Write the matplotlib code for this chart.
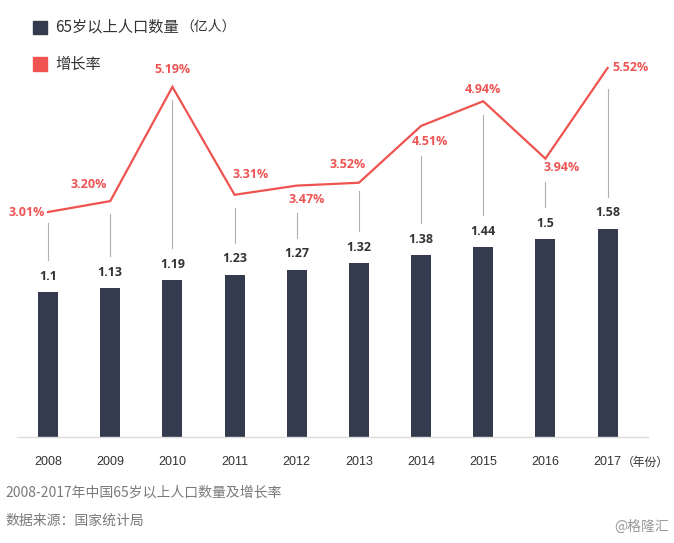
import matplotlib
matplotlib.use("Agg")
import matplotlib.pyplot as plt
from matplotlib.patches import Rectangle

plt.rcParams['font.family'] = ['Open Sans', 'Noto Sans CJK SC', 'DejaVu Sans']

years = ['2008', '2009', '2010', '2011', '2012', '2013', '2014', '2015', '2016', '2017']
population = [1.10, 1.13, 1.19, 1.23, 1.27, 1.32, 1.38, 1.44, 1.50, 1.58]
pop_labels = ['1.1', '1.13', '1.19', '1.23', '1.27', '1.32', '1.38', '1.44', '1.5', '1.58']
growth = [3.01, 3.20, 5.19, 3.31, 3.47, 3.52, 4.51, 4.94, 3.94, 5.52]

# label placement (pixel offsets from the point) and connector gaps — style only
pct_offsets = [(-3, 0, 'right'), (-3, 17, 'right'), (0, 17, 'center'), (-2, 20, 'left'),
               (10, -14, 'center'), (-11, 18, 'center'), (9, -16, 'center'),
               (0, 12, 'center'), (16, -9, 'center'), (5, 0, 'left')]
conn_top_gap = [11, 13, 13, 13, 27, 8, 30, 14, 23, 21]
conn_bottom_gap = 32

W, H = 674, 543
fig = plt.figure(figsize=(W / 100, H / 100), dpi=100)
left_px, right_px, top_px, base_px = 17, 648, 40, 437
ax = fig.add_axes([left_px / W, (H - base_px) / H, (right_px - left_px) / W, (base_px - top_px) / H])
ax2 = ax.twinx()

bar_color = '#343b4f'
line_color = '#ef5350'
pct_color = '#ee5454'

x = list(range(len(years)))
ax.bar(x, population, width=0.32, color=bar_color, zorder=2)
ax.set_xlim(-0.5, 9.65)
ax.set_ylim(0, 3.012)
ax2.set_ylim(-0.91, 6.007)
ax2.plot(x, growth, color=line_color, lw=1.6, zorder=3, solid_joinstyle='miter')

for a in (ax, ax2):
    for s in a.spines.values():
        s.set_visible(False)
    a.set_yticks([])
ax.spines['bottom'].set_visible(True)
ax.spines['bottom'].set_color('#dddddd')
ax.spines['bottom'].set_linewidth(1.0)
ax.set_xticks(x)
ax.set_xticklabels(years, fontsize=9, color='#333333', family=['Liberation Sans', 'DejaVu Sans'])
ax.tick_params(axis='x', length=0, pad=14)

# bar value labels
for xi, v, lab in zip(x, population, pop_labels):
    ax.annotate(lab, (xi, v), xytext=(0, 11.5), textcoords='offset points',
                ha='center', va='center', fontsize=9, fontweight='bold', color='#333333')

# percentage labels
for xi, g, (dx, dy, ha) in zip(x, growth, pct_offsets):
    ax2.annotate(f'{g:.2f}%', (xi, g), xytext=(dx * 0.72, dy * 0.72), textcoords='offset points',
                 ha=ha, va='center', fontsize=9, fontweight='bold', color=pct_color)

# connectors
fig.canvas.draw()
for xi, g, v, gap in zip(x, growth, population, conn_top_gap):
    ytop = ax2.transData.transform((xi, g))[1] - gap
    ybot = ax.transData.transform((xi, v))[1] + conn_bottom_gap
    xd = ax.transData.transform((xi, 0))[0]
    fig.add_artist(plt.Line2D([xd / W, xd / W], [ybot / H, ytop / H], color='#b0b0b0', lw=0.8))

# legend
cjk = ['Noto Sans CJK SC', 'DejaVu Sans']
fig.patches.append(Rectangle((33 / W, 1 - 34 / H), 14 / W, 13 / H, transform=fig.transFigure,
                             color=bar_color))
fig.patches.append(Rectangle((33 / W, 1 - 71 / H), 14 / W, 14 / H, transform=fig.transFigure,
                             color=line_color))
t1 = fig.text(55 / W, 1 - 27 / H, '65岁以上人口数量', fontsize=11, color='#333333', va='center', family=cjk)
fig.canvas.draw()
bb = t1.get_window_extent()
fig.text((bb.x1 + 2) / W, 1 - 27 / H, '（亿人）', fontsize=10, style='italic', color='#333333',
         va='center', family=cjk)
fig.text(55 / W, 1 - 64 / H, '增长率', fontsize=11, color='#333333', va='center', family=cjk)

# axis unit
fig.text(622 / W, 1 - 462 / H, '（年份）', fontsize=8.5, style='italic', color='#333333',
         va='center', ha='left', family=cjk)

# captions
fig.text(5 / W, 1 - 493 / H, '2008-2017年中国65岁以上人口数量及增长率', fontsize=10, color='#7a7a7a',
         va='center', family=cjk)
fig.text(5 / W, 1 - 521 / H, '数据来源：国家统计局', fontsize=10, color='#7a7a7a', va='center', family=cjk)
fig.text(669 / W, 1 - 527 / H, '@格隆汇', fontsize=10, color='#9a9a9a', va='center', ha='right', family=cjk)

fig.savefig('out.png', dpi=100)
